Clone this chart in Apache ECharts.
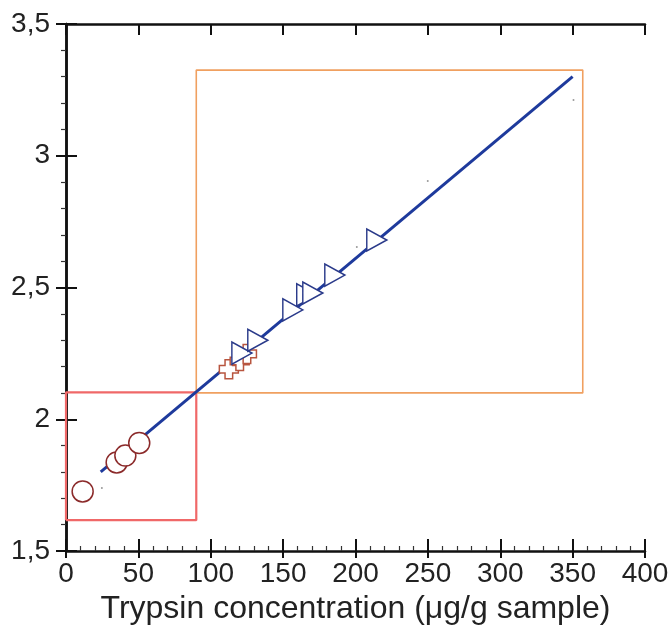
<!DOCTYPE html>
<html>
<head>
<meta charset="utf-8">
<script src="https://cdn.jsdelivr.net/npm/echarts@6/dist/echarts.min.js"></script>
<style>html,body{margin:0;padding:0;background:#fff}#c{width:672px;height:643px}</style>
</head>
<body>
<div id="c"></div>
<script>
// Data
const xTicks = [0, 50, 100, 150, 200, 250, 300, 350, 400];
const yTicks = [1.5, 2, 2.5, 3, 3.5];
const circlePts = [[11.5, 1.726], [35, 1.836], [41, 1.862], [50.6, 1.91]];
const crossPts = [[112.5, 2.19], [120, 2.221], [125, 2.248]];
const trianglePts = [[121.5, 2.251], [132.5, 2.30], [156.7, 2.415], [166.3, 2.472], [170.5, 2.479], [185.7, 2.547], [214.7, 2.68]];
const fitLine = [[24, 1.80], [350, 3.30]];
const redBox = [[0, 1.617], [90, 1.617], [90, 2.102], [0, 2.102], [0, 1.617]];
const orangeBox = [[90, 2.1], [357, 2.1], [357, 3.325], [90, 3.325], [90, 2.1]];
const specks = [[24.8, 1.739], [249.9, 2.904], [350.6, 3.212], [200.9, 2.654]];
const xTitle = 'Trypsin concentration (\u03bcg/g sample)';

const FONT = 'Liberation Sans, Arial, sans-serif';
const plus = 'path://M3,0 H7 V3 H10 V7 H7 V10 H3 V7 H0 V3 H3 Z';
const axisLine = {show: true, lineStyle: {color: '#111', width: 2.5}};

const chart = echarts.init(document.getElementById('c'));
chart.setOption({
  animation: false,
  backgroundColor: '#fff',
  grid: {left: 66, right: 27, top: 24, bottom: 92},
  xAxis: [
    {type: 'value', position: 'bottom', min: xTicks[0], max: xTicks[xTicks.length - 1], interval: 50,
     axisLine: axisLine, splitLine: {show: false},
     axisTick: {show: true, inside: true, length: 12, lineStyle: {color: '#111', width: 2}},
     minorTick: {show: true, splitNumber: 5, length: 5, lineStyle: {color: '#333', width: 1.2}},
     axisLabel: {fontSize: 28, color: '#222', fontFamily: FONT, margin: 9},
     name: xTitle, nameLocation: 'middle', nameGap: 33,
     nameTextStyle: {fontSize: 32, color: '#222', fontFamily: FONT, verticalAlign: 'top'}},
    {type: 'value', position: 'bottom', offset: 0, min: 0, max: 400, interval: 50,
     axisLine: {show: false}, splitLine: {show: false}, axisLabel: {show: false},
     axisTick: {show: true, inside: false, length: 7, lineStyle: {color: '#111', width: 2}}},
    {type: 'value', position: 'top', min: 0, max: 400, interval: 50,
     axisLine: axisLine, splitLine: {show: false}, axisLabel: {show: false},
     axisTick: {show: true, inside: true, length: 11, lineStyle: {color: '#111', width: 2}}}
  ],
  yAxis: [
    {type: 'value', position: 'left', min: yTicks[0], max: yTicks[yTicks.length - 1], interval: 0.5,
     axisLine: axisLine, splitLine: {show: false},
     axisTick: {show: true, inside: true, length: 11, lineStyle: {color: '#111', width: 2}},
     axisLabel: {fontSize: 28, color: '#222', fontFamily: FONT, margin: 16,
                 formatter: v => String(v).replace('.', ',')}},
    {type: 'value', position: 'left', offset: 0, min: 1.5, max: 3.5, interval: 0.5,
     axisLine: {show: false}, splitLine: {show: false}, axisLabel: {show: false},
     axisTick: {show: true, inside: false, length: 5, lineStyle: {color: '#111', width: 2}},
     minorTick: {show: true, splitNumber: 5, length: 5, lineStyle: {color: '#333', width: 1.2}}},
    {type: 'value', position: 'right', min: 1.5, max: 3.5, interval: 0.5,
     axisLine: axisLine, splitLine: {show: false}, axisLabel: {show: false},
     axisTick: {show: true, inside: true, length: 10, lineStyle: {color: '#111', width: 2}}}
  ],
  series: [
    {type: 'line', data: redBox, symbol: 'none', lineStyle: {color: '#f06868', width: 2.2}, z: 2},
    {type: 'line', data: orangeBox, symbol: 'none', lineStyle: {color: '#f0a060', width: 1.6}, z: 2},
    {type: 'line', data: fitLine, symbol: 'none', lineStyle: {color: '#1e3a9c', width: 3}, z: 3},
    {type: 'scatter', data: specks, symbol: 'circle', symbolSize: 2, itemStyle: {color: '#999', opacity: 1}, z: 3},
    {type: 'scatter', data: circlePts, symbol: 'circle', symbolSize: 21,
     itemStyle: {color: '#fff', borderColor: '#8b2a2a', borderWidth: 1.5, opacity: 1}, z: 4},
    {type: 'scatter', data: crossPts, symbol: plus, symbolSize: 19,
     itemStyle: {color: '#fff', borderColor: '#b8553f', borderWidth: 1.5, opacity: 1}, z: 4},
    {type: 'scatter', data: trianglePts, symbol: 'triangle', symbolSize: [22, 20], symbolRotate: -90,
     itemStyle: {color: '#fff', borderColor: '#2a3a8a', borderWidth: 1.5, opacity: 1}, z: 5}
  ]
});
</script>
</body>
</html>
